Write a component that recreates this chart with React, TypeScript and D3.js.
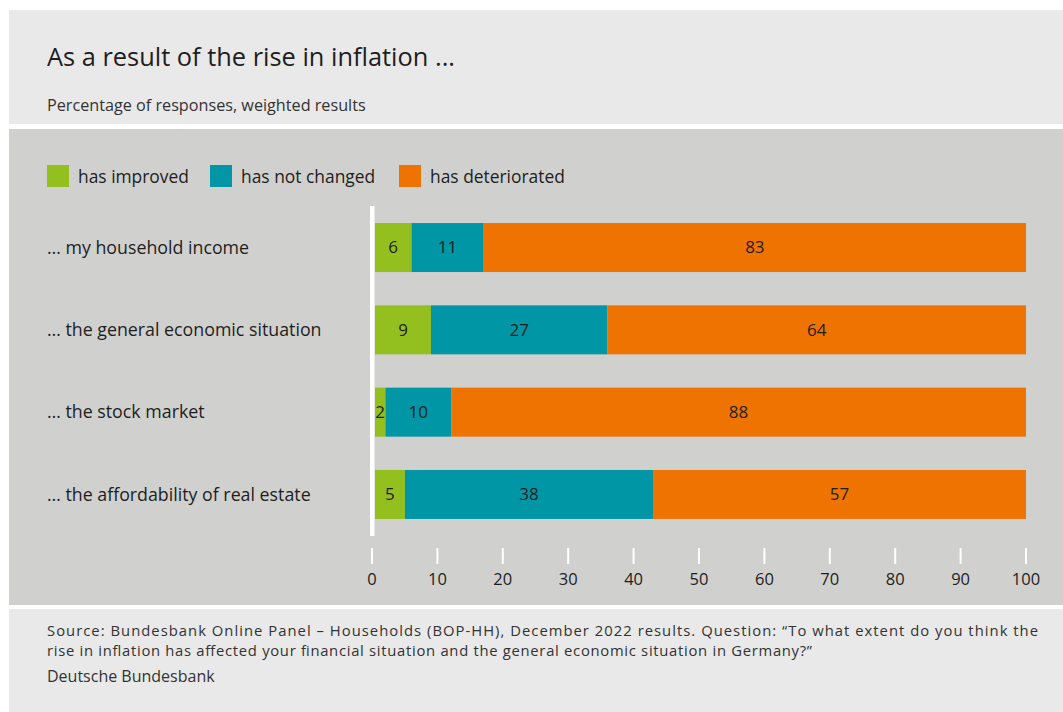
import React from "react";
import * as d3 from "d3";

const categories = [
  "… my household income",
  "… the general economic situation",
  "… the stock market",
  "… the affordability of real estate",
];
const seriesNames = ["has improved", "has not changed", "has deteriorated"];
const improved = [5.6, 8.6, 1.6, 4.6];
const notChanged = [11.1, 27.1, 10.1, 38.1];
const deteriorated = [83.3, 64.3, 88.3, 57.3];
const colors = ["#93c01f", "#0096a5", "#ef7300"];
const xTicks = [0, 10, 20, 30, 40, 50, 60, 70, 80, 90, 100];

const title = "As a result of the rise in inflation ...";
const subtitle = "Percentage of responses, weighted results";
const sourceLines = [
  "Source: Bundesbank Online Panel – Households (BOP-HH), December 2022 results. Question: “To what extent do you think the",
  "rise in inflation has affected your financial situation and the general economic situation in Germany?”",
];
const sourceWidths = [991, 765];
const publisher = "Deutsche Bundesbank";

const FONT = "'Open Sans', 'Noto Sans', sans-serif";
const TEXT = "#1e1e1e";

export default function App() {
  const W = 1063;
  const H = 712;
  const rows = categories.map((c, i) => ({
    cat: c,
    vals: [improved[i], notChanged[i], deteriorated[i]],
  }));
  const stack = d3
    .stack<any>()
    .keys([0, 1, 2] as any)
    .value((d: any, k: any) => d.vals[k])(rows as any);

  const x = d3.scaleLinear().domain([0, 100]).range([375, 1026]);
  const xt = d3.scaleLinear().domain([0, 100]).range([372, 1026]);
  const y = d3
    .scaleBand()
    .domain(categories)
    .range([206, 536])
    .paddingInner(0.405)
    .paddingOuter(0.207);
  const fmt = d3.format(".0f");

  const legendX = [47, 210, 399];

  return (
    <svg
      width={W}
      height={H}
      style={{ position: "absolute", left: 0, top: 0 }}
      fontFamily={FONT}
    >
      <rect x={0} y={0} width={W} height={H} fill="#ffffff" />
      <rect x={9} y={10} width={W - 9} height={114} fill="#e9e9e9" />
      <rect x={9} y={129} width={W - 9} height={476} fill="#d0d0ce" />
      <rect x={9} y={609} width={W - 9} height={103} fill="#e9e9e9" />

      <text x={47} y={66} fontSize={25.4} fill={TEXT}>
        {title}
      </text>
      <text x={47} y={111} fontSize={16.2} fill="#333">
        {subtitle}
      </text>

      {seriesNames.map((s, i) => (
        <g key={s}>
          <rect x={legendX[i]} y={165} width={22} height={22} fill={colors[i]} />
          <text x={legendX[i] + 31} y={183} fontSize={17.4} fill={TEXT}>
            {s}
          </text>
        </g>
      ))}

      {categories.map((c) => (
        <text
          key={c}
          x={47}
          y={(y(c) as number) + y.bandwidth() / 2}
          dy="0.35em"
          fontSize={17.8}
          fill={TEXT}
        >
          {c}
        </text>
      ))}

      {stack.map((layer: any, li: number) => (
        <g key={li}>
          {layer.map((d: any, ri: number) => {
            const x0 = x(d[0]);
            const x1 = x(d[1]);
            const yy = y(categories[ri]) as number;
            return (
              <g key={ri}>
                <rect
                  x={x0}
                  y={yy}
                  width={x1 - x0}
                  height={y.bandwidth()}
                  fill={colors[li]}
                />
                <text
                  x={(x0 + x1) / 2}
                  y={yy + y.bandwidth() / 2}
                  dy="0.35em"
                  textAnchor="middle"
                  fontSize={17}
                  fill={TEXT}
                >
                  {fmt(d[1] - d[0])}
                </text>
              </g>
            );
          })}
        </g>
      ))}

      <rect x={370} y={206} width={4.5} height={330} fill="#ffffff" />

      {xTicks.map((t) => (
        <g key={t}>
          <rect x={xt(t) - 1} y={548} width={2} height={16} fill="#ffffff" />
          <text
            x={xt(t)}
            y={585}
            textAnchor="middle"
            fontSize={16.5}
            fill={TEXT}
          >
            {t}
          </text>
        </g>
      ))}

      {sourceLines.map((l, i) => (
        <text
          key={i}
          x={47}
          y={636 + i * 20}
          fontSize={14.8}
          fill="#333"
          textLength={sourceWidths[i]}
          lengthAdjust="spacing"
        >
          {l}
        </text>
      ))}
      <text x={47} y={682} fontSize={16} fill="#333">
        {publisher}
      </text>
    </svg>
  );
}
